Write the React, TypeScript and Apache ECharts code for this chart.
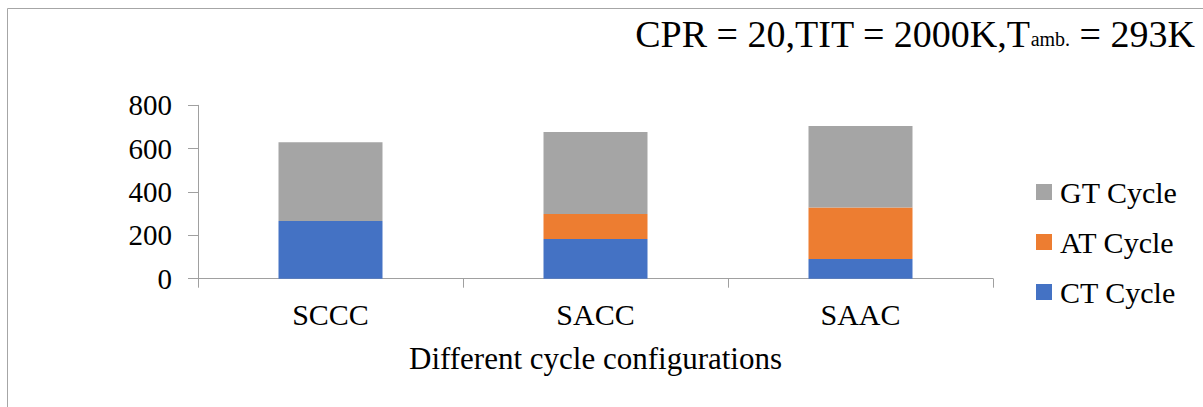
import React, { useEffect, useRef } from "react";
import * as echarts from "echarts";

const categories = ["SCCC", "SACC", "SAAC"];
const ctCycle = [266, 183, 91];
const atCycle = [0, 115, 237];
const gtCycle = [363, 379, 377];
const yTicks = { min: 0, max: 800, interval: 200 };
const seriesNames = ["CT Cycle", "AT Cycle", "GT Cycle"];
const legendOrder = ["GT Cycle", "AT Cycle", "CT Cycle"];
const colors = ["#4472C4", "#ED7D31", "#A5A5A5"];

const FONT = "Liberation Serif";

export default function App() {
  const ref = useRef<HTMLDivElement>(null);
  useEffect(() => {
    if (!ref.current) return;
    const chart = echarts.init(ref.current, undefined, { renderer: "svg" });
    const values = [ctCycle, atCycle, gtCycle];
    chart.setOption({
      animation: false,
      backgroundColor: "#ffffff",
      textStyle: { fontFamily: FONT, color: "#000" },
      title: {
        text: "CPR = 20,TIT = 2000K,T{s|amb.} = 293K",
        right: 8,
        top: 15,
        padding: 0,
        textStyle: {
          fontFamily: FONT,
          fontSize: 38,
          fontWeight: "normal",
          color: "#000",
          lineHeight: 38,
          rich: {
            s: {
              fontFamily: FONT,
              fontSize: 20,
              color: "#000",
              lineHeight: 20,
              verticalAlign: "bottom",
              padding: [0, 0, 4, 0],
            },
          },
        },
      },
      graphic: [
        {
          type: "rect",
          shape: { x: 7.5, y: 8.5, width: 1400, height: 600 },
          style: { fill: "none", stroke: "#a6a6a6", lineWidth: 1 },
          silent: true,
        },
      ],
      legend: {
        data: legendOrder,
        orient: "vertical",
        left: 1036,
        top: 177,
        itemWidth: 16,
        itemHeight: 16,
        itemGap: 20,
        icon: "rect",
        padding: 0,
        textStyle: {
          fontFamily: FONT,
          fontSize: 30,
          color: "#000",
          padding: [0, 0, 0, 3],
        },
      },
      grid: { left: 198, right: 210, top: 105.3, bottom: 128.3, containLabel: false },
      xAxis: {
        type: "category",
        data: categories,
        name: "Different cycle configurations",
        nameLocation: "middle",
        nameGap: 64,
        nameTextStyle: { fontFamily: FONT, fontSize: 31, color: "#000" },
        axisLine: { show: true, lineStyle: { color: "#a0a0a0", width: 1 } },
        axisTick: { show: true, length: 9, lineStyle: { color: "#a0a0a0" }, alignWithLabel: false },
        axisLabel: { fontFamily: FONT, fontSize: 30, color: "#000", margin: 21 },
        splitLine: { show: false },
      },
      yAxis: {
        type: "value",
        min: yTicks.min,
        max: yTicks.max,
        interval: yTicks.interval,
        axisLine: { show: true, lineStyle: { color: "#a0a0a0", width: 1 } },
        axisTick: { show: true, length: 10, lineStyle: { color: "#a0a0a0" } },
        axisLabel: { fontFamily: FONT, fontSize: 29, color: "#000", margin: 26 },
        splitLine: { show: false },
      },
      series: seriesNames.map((name, i) => ({
        name,
        type: "bar",
        stack: "total",
        data: values[i],
        barWidth: 104,
        itemStyle: { color: colors[i] },
      })),
    });
    return () => chart.dispose();
  }, []);
  return (
    <div
      ref={ref}
      style={{ position: "fixed", left: 0, top: 0, width: 1203, height: 407 }}
    />
  );
}
